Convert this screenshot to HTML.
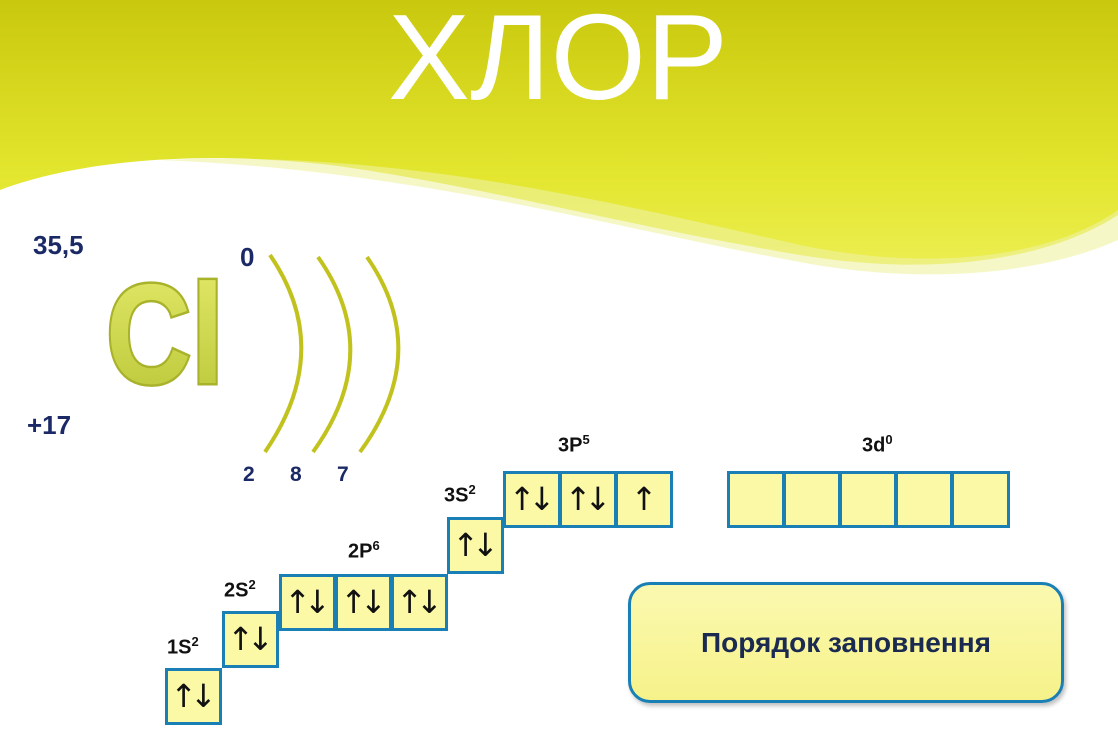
<!DOCTYPE html>
<html><head><meta charset="utf-8"><style>
html,body{margin:0;padding:0;background:#fff;}
body{width:1118px;height:740px;position:relative;overflow:hidden;font-family:"Liberation Sans","DejaVu Sans",sans-serif;}
.b{position:absolute;box-sizing:border-box;background:#fbf9a6;border:3px solid #1a7fb5;font-size:32px;line-height:50px;text-align:center;color:#111;font-family:"DejaVu Sans",sans-serif;letter-spacing:-7px;text-indent:-7px;}
.l{position:absolute;font-weight:bold;font-size:20px;color:#111;}
.l sup{font-size:13px;}
.n{position:absolute;font-weight:bold;color:#1b2a66;}
</style></head><body>
<svg width="1118" height="740" style="position:absolute;left:0;top:0">
<defs>
<linearGradient id="g" x1="0" y1="0" x2="0" y2="1">
<stop offset="0" stop-color="#c9c80e"/><stop offset="0.6" stop-color="#e3e62e"/><stop offset="1" stop-color="#eef05a"/>
</linearGradient>
<linearGradient id="cg" x1="0" y1="0" x2="0" y2="1">
<stop offset="0" stop-color="#e4ea6a"/><stop offset="1" stop-color="#b9c637"/>
</linearGradient>
</defs>
<rect x="0" y="0" width="1118" height="290" fill="url(#g)"/>
<path d="M0,190 C80,160 200,150 330,165 C480,185 620,225 800,255 C920,275 1040,265 1118,215 L1118,290 L0,290 Z" fill="#fff"/>
<path d="M160,160 C400,150 600,200 800,245 C930,272 1050,258 1118,210 L1118,240 C1040,275 920,285 800,262 C620,230 420,170 160,160 Z" fill="#eef2a0" opacity="0.6"/>
<text x="558" y="99" text-anchor="middle" font-family="Liberation Sans, DejaVu Sans, sans-serif" font-size="122" fill="#fff" textLength="340" lengthAdjust="spacingAndGlyphs">ХЛОР</text>
<text x="106" y="383" font-family="Liberation Sans, sans-serif" font-weight="bold" font-size="142" fill="url(#cg)" stroke="#a8b22a" stroke-width="5" paint-order="stroke" textLength="118" lengthAdjust="spacingAndGlyphs">Cl</text>
<g fill="none" stroke="#c2c21e" stroke-width="4">
<path d="M270,255 Q335,350 265,452"/>
<path d="M318,257 Q385,352 313,452"/>
<path d="M367,257 Q433,352 360,452"/>
</g>
</svg>
<div class="n" style="left:33px;top:230px;font-size:26px;">35,5</div>
<div class="n" style="left:27px;top:410px;font-size:26px;">+17</div>
<div class="n" style="left:240px;top:242px;font-size:26px;">0</div>
<div class="n" style="left:243px;top:463px;font-size:21px;">2</div>
<div class="n" style="left:290px;top:463px;font-size:21px;">8</div>
<div class="n" style="left:337px;top:463px;font-size:21px;">7</div>

<div class="b" style="left:165px;top:668px;width:57px;height:57px;">↑↓</div>
<div class="b" style="left:222px;top:611px;width:57px;height:57px;">↑↓</div>
<div class="b" style="left:279px;top:574px;width:57px;height:57px;">↑↓</div>
<div class="b" style="left:335px;top:574px;width:57px;height:57px;">↑↓</div>
<div class="b" style="left:391px;top:574px;width:57px;height:57px;">↑↓</div>
<div class="b" style="left:447px;top:517px;width:57px;height:57px;">↑↓</div>
<div class="b" style="left:503px;top:471px;width:58px;height:57px;">↑↓</div>
<div class="b" style="left:559px;top:471px;width:58px;height:57px;">↑↓</div>
<div class="b" style="left:615px;top:471px;width:58px;height:57px;text-indent:0;letter-spacing:0;">↑</div>
<div class="b" style="left:727px;top:471px;width:58px;height:57px;"></div>
<div class="b" style="left:783px;top:471px;width:58px;height:57px;"></div>
<div class="b" style="left:839px;top:471px;width:58px;height:57px;"></div>
<div class="b" style="left:895px;top:471px;width:58px;height:57px;"></div>
<div class="b" style="left:951px;top:471px;width:59px;height:57px;"></div>

<div class="l" style="left:167px;top:634px;">1S<sup>2</sup></div>
<div class="l" style="left:224px;top:577px;">2S<sup>2</sup></div>
<div class="l" style="left:348px;top:538px;">2P<sup>6</sup></div>
<div class="l" style="left:444px;top:482px;">3S<sup>2</sup></div>
<div class="l" style="left:558px;top:432px;">3P<sup>5</sup></div>
<div class="l" style="left:862px;top:432px;">3d<sup>0</sup></div>

<div style="position:absolute;left:628px;top:582px;width:436px;height:121px;box-sizing:border-box;border:3px solid #1a7fb5;border-radius:22px;background:linear-gradient(#fbf9b0,#f6f28a);box-shadow:2px 3px 4px rgba(0,0,0,0.25);text-align:center;line-height:115px;font-weight:bold;font-size:28px;color:#1b2a50;">Порядок заповнення</div>
</body></html>
